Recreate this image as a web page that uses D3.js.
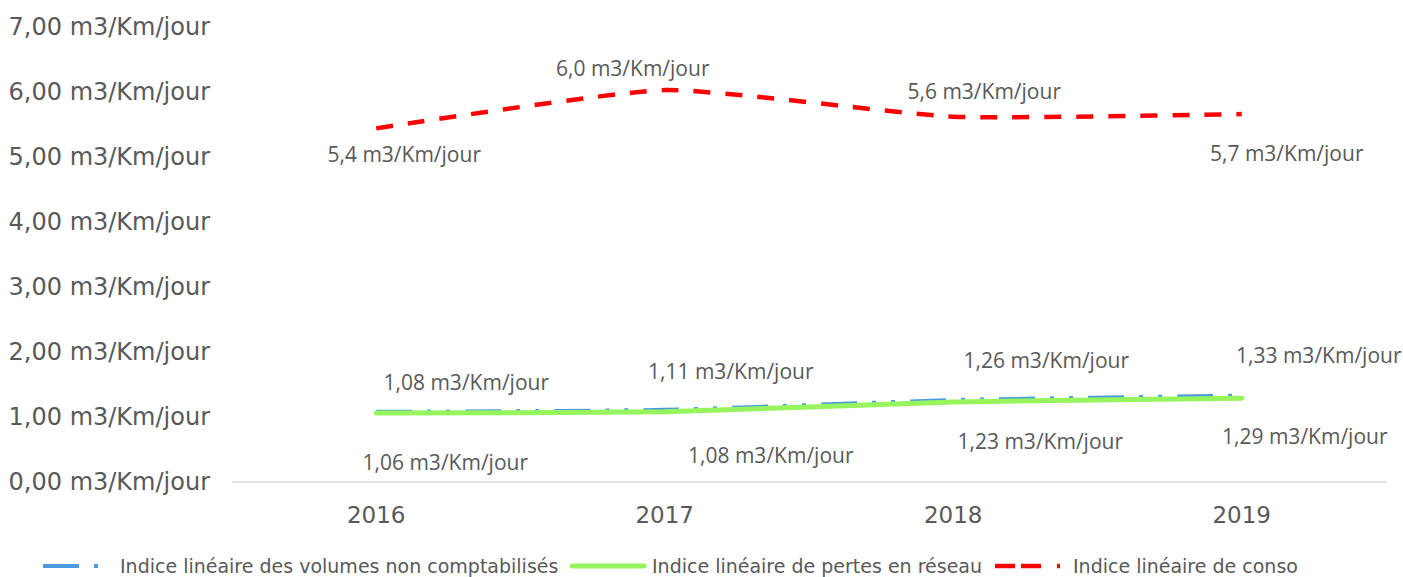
<!DOCTYPE html>
<html>
<head>
<meta charset="utf-8">
<script src="https://cdn.jsdelivr.net/npm/d3@7"></script>
<style>
  body { margin: 0; background: #fff; }
  text { fill: #595959; }
</style>
</head>
<body>
<div id="chart"></div>
<script>
var years = ["2016", "2017", "2018", "2019"];
var volumesNonCompta = [1.08, 1.11, 1.26, 1.33];
var pertesReseau = [1.06, 1.08, 1.23, 1.29];
var conso = [5.44, 6.03, 5.62, 5.66];
var yTicks = [0, 1, 2, 3, 4, 5, 6, 7];
var seriesNames = ["Indice linéaire des volumes non comptabilisés", "Indice linéaire de pertes en réseau", "Indice linéaire de conso"];

var width = 1403, height = 577;
var fr = d3.formatLocale({decimal: ",", thousands: " ", grouping: [3], currency: ["", "€"]});
var f2 = fr.format(".2f"), f1 = fr.format(".1f");

var svg = d3.select("#chart").append("svg")
    .attr("width", width)
    .attr("height", height);

var x = d3.scaleBand().domain(years).range([232, 1386]);
var y = d3.scaleLinear().domain([0, 7]).range([482, 27]);

// y labels
svg.append("g").selectAll("text")
    .data(yTicks)
    .enter()
    .append("text")
    .attr("x", 210)
    .attr("y", function(d) { return y(d); })
    .attr("dy", "0.35em")
    .style("text-anchor", "end")
    .style("font-family", "DejaVu Sans")
    .style("font-size", "24px")
    .text(function(d) { return f2(d) + " m3/Km/jour"; });

// x axis
svg.append("line")
    .attr("x1", x.range()[0]).attr("x2", x.range()[1])
    .attr("y1", y(0)).attr("y2", y(0))
    .attr("stroke", "#d9d9d9").attr("stroke-width", 1.5);

svg.append("g").selectAll("text")
    .data(years)
    .enter()
    .append("text")
    .attr("x", function(d) { return x(d) + x.bandwidth() / 2; })
    .attr("y", 515)
    .attr("dy", "0.35em")
    .style("text-anchor", "middle")
    .style("font-family", "DejaVu Sans")
    .style("font-size", "23px")
    .text(function(d) { return d; });

var series = [
  {name: seriesNames[0], values: volumesNonCompta, color: "#4a9be0", width: 4, dash: "36,15,4,15,4,15", cap: "butt", fmt: f2,
   off: [[90, -29], [66, -38], [93, -39], [77, -40]]},
  {name: seriesNames[1], values: pertesReseau, color: "#96f55c", width: 5, dash: null, cap: "round", fmt: f2,
   off: [[69, 50], [106, 44], [87, 40], [63, 38]]},
  {name: seriesNames[2], values: conso, color: "#ff0000", width: 4.5, dash: "17,15", cap: "butt", fmt: f1,
   off: [[28, 26], [-32, -21], [31, -25], [45, 40]]}
];

var line = d3.line()
    .x(function(d, i) { return x(years[i]) + x.bandwidth() / 2; })
    .y(function(d) { return y(d); })
    .curve(d3.curveCardinal.tension(0.5));

series.forEach(function(s) {
  svg.append("path")
    .attr("d", line(s.values))
    .attr("fill", "none")
    .attr("stroke", s.color)
    .attr("stroke-width", s.width)
    .attr("stroke-linecap", s.cap)
    .attr("stroke-dasharray", s.dash);
});

// data labels
series.forEach(function(s) {
  svg.append("g").selectAll("text")
    .data(s.values)
    .enter()
    .append("text")
    .attr("x", function(d, i) { return x(years[i]) + x.bandwidth() / 2 + s.off[i][0]; })
    .attr("y", function(d, i) { return y(d) + s.off[i][1]; })
    .attr("dy", "0.35em")
    .style("text-anchor", "middle")
    .style("font-family", "Open Sans")
    .style("font-size", "21px")
    .text(function(d) { return s.fmt(d) + " m3/Km/jour"; });
});

// legend
var legendX = [43, 572, 995];
var legend = svg.append("g");
series.forEach(function(s, i) {
  var g = legend.append("g").attr("transform", "translate(" + legendX[i] + ",566)");
  g.append("line")
    .attr("x1", 0).attr("x2", i == 0 ? 57 : (i == 1 ? 72 : 65))
    .attr("y1", 0).attr("y2", 0)
    .attr("stroke", s.color)
    .attr("stroke-width", s.width)
    .attr("stroke-linecap", s.cap)
    .attr("stroke-dasharray", i == 0 ? "36,15,4,15" : (i == 2 ? "20,6,20,16,3" : null));
  g.append("text")
    .attr("x", i == 0 ? 77 : (i == 1 ? 80 : 78))
    .attr("y", 0)
    .attr("dy", "0.35em")
    .style("font-family", "DejaVu Sans")
    .style("font-size", "19px")
    .text(s.name);
});
</script>
</body>
</html>
